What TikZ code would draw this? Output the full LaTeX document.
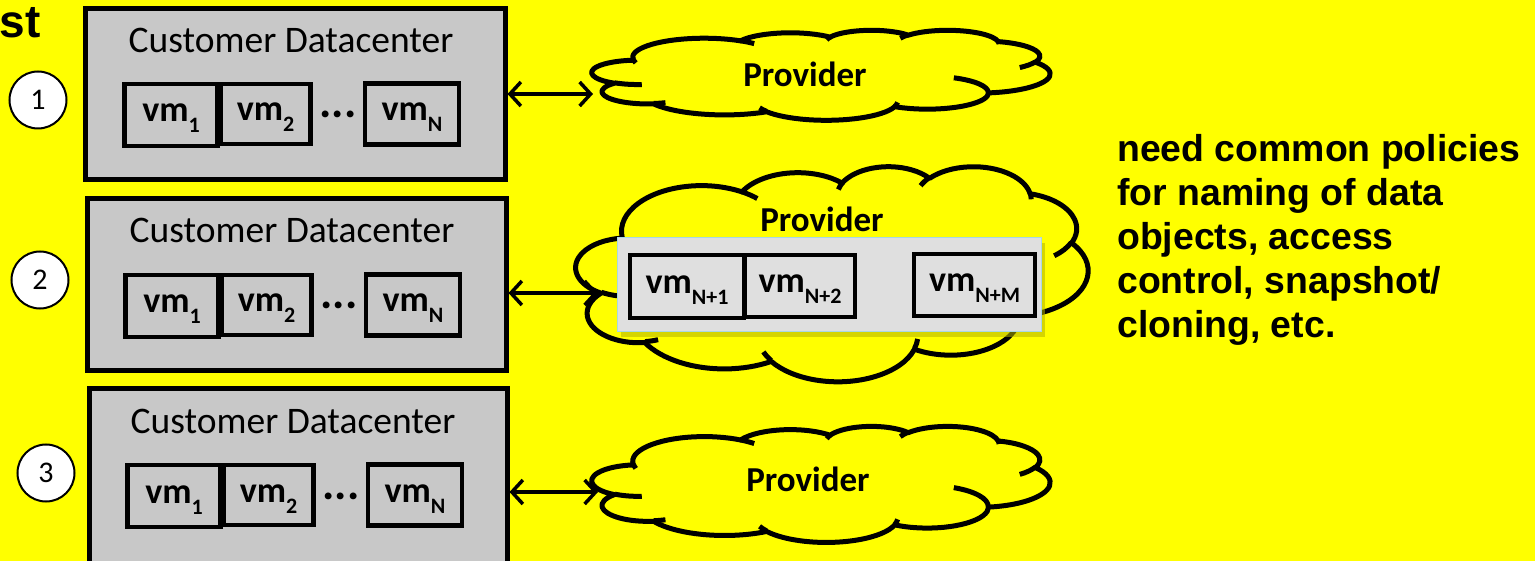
\documentclass[tikz,border=0pt]{standalone}
\usepackage{fontspec}
\setmainfont{Carlito}
\newfontfamily\arialfont{Liberation Sans}
\usetikzlibrary{arrows.meta}
\definecolor{bgyellow}{HTML}{FFFF00}
\definecolor{dcgray}{HTML}{C8C8C8}
\definecolor{innergray}{HTML}{DFDFDF}
\definecolor{innerborder}{HTML}{A8D8E4}
\definecolor{shadowcol}{HTML}{B4B400}
\newcommand\vmsub[1]{vm\raisebox{-11pt}{\fontsize{22}{22}\selectfont #1}}
% arc of the PowerPoint cloud: wR hR startangle sweep (visual angles, degrees)
\newcommand\pparc[4]{%
  \pgfextra{%
    \pgfmathparse{atan2((#1)*sin(#3),(#2)*cos(#3))}\xdef\pcs{\pgfmathresult}%
    \pgfmathparse{atan2((#1)*sin((#3)+(#4)),(#2)*cos((#3)+(#4)))}\xdef\pce{\pgfmathresult}%
    \pgfmathparse{\pce-\pcs}\xdef\pcd{\pgfmathresult}%
    \pgfmathparse{(\pcd-(#4)>180) ? (\pcd-360) : ((\pcd-(#4)<-180) ? (\pcd+360) : \pcd)}\xdef\pcd{\pgfmathresult}%
  }
  arc[start angle=\pcs, delta angle=\pcd, x radius=#1, y radius=#2]
}
\newcommand\cloudoutline{%
  (390,1437)
  \pparc{675.3}{919}{-190.487}{123.781}
  \pparc{533.3}{726.7}{-144.102}{89.945}
  \pparc{436.5}{594.5}{-145.808}{99.723}
  \pparc{485.7}{659.5}{-130.986}{117.242}
  \pparc{533.3}{727.3}{-78.709}{109.027}
  \pparc{677.5}{922}{-46.267}{130.269}
  \pparc{578.5}{786.7}{0.625}{114.033}
  \pparc{675.2}{921.5}{22.452}{115.173}
  \pparc{772}{1054.3}{66.243}{75.711}
  \pparc{436}{591.8}{-274.942}{146.736}
  \pparc{434.5}{594.5}{-246.829}{152.519}
  -- cycle}
\newcommand\cloudinner{%
  (469.3,2617.7) \pparc{434.5}{594.5}{86.742}{26.430}
  (692.8,3489.9) \pparc{436}{591.8}{73.610}{11.447}
  (1647.8,3909) \pparc{675.2}{921.5}{137.624}{14.081}
  (2882.7,3475.1) \pparc{675.2}{921.5}{6.453}{15.998}
  (3412.9,2295.4) \pparc{578.5}{786.7}{-70.292}{70.917}
  (4179.8,1535.4) \pparc{533.3}{727.3}{30.318}{27.752}
  (3832.4,542.6) \pparc{485.7}{659.5}{-13.744}{14.859}
  (2907.8,395.2) \pparc{485.7}{659.5}{-149.181}{18.195}
  (2214.1,472) \pparc{436.5}{594.5}{-163.494}{17.686}
  (1400,519.2) \pparc{675.3}{919}{-66.707}{12.319}
  (412.7,1578.9) \pparc{675.3}{919}{157.654}{11.858}}
\begin{document}
\begin{tikzpicture}[x=1pt,y=-1pt,
  dcbox/.style={draw=black, line width=5pt, fill=dcgray, inner sep=0pt},
  vmbox/.style={draw=black, line width=4.5pt, fill=dcgray, inner sep=0pt},
  vmlabel/.style={font=\fontsize{36}{36}\selectfont\bfseries, inner sep=0pt, anchor=base, yshift=-7pt},
  dctitle/.style={font=\fontsize{37.5}{37.5}\selectfont, inner sep=0pt, anchor=base},
  dotsl/.style={font=\fontsize{46}{46}\selectfont\bfseries, inner sep=0pt, anchor=base},
  numcirc/.style={circle, draw=black, line width=2pt, fill=white, minimum size=57pt, inner sep=0pt, font=\fontsize{30}{30}\selectfont},
  cloudline/.style={draw=black, line width=5pt, line join=round},
  provlabel/.style={font=\fontsize{35}{35}\selectfont\bfseries, inner sep=0pt, anchor=base},
  conn/.style={<->, line width=3.5pt, >={Straight Barb[length=11pt,width=24pt,line width=3.5pt]}},
  note/.style={font=\arialfont\bfseries\fontsize{37.4}{44}\selectfont, inner sep=0pt, anchor=base west},
]
\useasboundingbox (0,0) rectangle (1535,561);
\fill[bgyellow] (0,0) rectangle (1535,561);
\clip (0,0) rectangle (1535,561);

\node[font=\arialfont\bfseries\fontsize{46}{46}\selectfont, inner sep=0pt, anchor=base east] (stlab) at (41,38) {st};

% datacenters
\foreach \r/\bx/\by/\bw/\bh/\tx/\ty/\vy/\dx in {1/295/94.5/420/171/291/53/115/0, 2/296.5/285/419/172/292/243/306/1, 3/298/478/418/178/293/433/496/3}{
  \node[dcbox, minimum width=\bw pt, minimum height=\bh pt] (dc\r) at (\bx,\by) {};
  \node[dctitle] (dct\r) at (\tx,\ty) {Customer Datacenter};
  \node[vmbox, minimum width=93pt, minimum height=62pt] (vma\r) at (171+\dx,\vy) {};
  \node[vmbox, minimum width=90pt, minimum height=60pt] (vmb\r) at (265.5+\dx,\vy-1) {};
  \node[vmbox, minimum width=94pt, minimum height=61pt] (vmn\r) at (412+\dx,\vy-1) {};
  \node[vmlabel] (vmal\r) at (vma\r.center) {\vmsub{1}};
  \node[vmlabel] (vmbl\r) at (vmb\r.center) {\vmsub{2}};
  \node[vmlabel] (vmnl\r) at (vmn\r.center) {\vmsub{N}};
  \node[dotsl] (dots\r) at (338+\dx,\vy+3) {...};
}

% number circles
\node[numcirc] (c1) at (38,100) {1};
\node[numcirc] (c2) at (40,280) {2};
\node[numcirc] (c3) at (46,473) {3};

% clouds
\begin{scope}[shift={(592,30)}, x=0.106019pt, y=-0.020833pt]
  \path[cloudline, fill=bgyellow] \cloudoutline;
  \path[cloudline] \cloudinner;
  \coordinate (cloud1) at (2160,2160);
\end{scope}
\node[provlabel] (prov1) at (805,87) {Provider};

\begin{scope}[shift={(576,166)}, x=0.118519pt, y=-0.049769pt]
  \path[cloudline, fill=bgyellow] \cloudoutline;
  \path[cloudline] \cloudinner;
  \coordinate (cloud2) at (2160,2160);
\end{scope}
\node[provlabel] (prov2) at (822,232) {Provider};
\node[fill=shadowcol, opacity=0.55, minimum width=424pt, minimum height=94pt, inner sep=0pt] (innershadow) at (833,290) {};
\node[fill=innergray, draw=innerborder, line width=1pt, minimum width=424pt, minimum height=94pt, inner sep=0pt] (inner) at (829,285) {};
\node[vmbox, fill=innergray, minimum width=114pt, minimum height=63pt] (vmp1) at (687,286.5) {};
\node[vmbox, fill=innergray, minimum width=110pt, minimum height=62pt] (vmp2) at (800,286) {};
\node[vmbox, fill=innergray, minimum width=121pt, minimum height=62pt] (vmpm) at (974.5,285) {};
\node[vmlabel] (vmpl1) at (vmp1.center) {\vmsub{N+1}};
\node[vmlabel] (vmpl2) at (vmp2.center) {\vmsub{N+2}};
\node[vmlabel] (vmplm) at (vmpm.center) {\vmsub{N+M}};

\begin{scope}[shift={(592,426)}, x=0.106019pt, y=-0.026852pt]
  \path[cloudline, fill=bgyellow] \cloudoutline;
  \path[cloudline] \cloudinner;
  \coordinate (cloud3) at (2160,2160);
\end{scope}
\node[provlabel] (prov3) at (808,491) {Provider};

% connectors
\coordinate (a1) at (593,94);
\coordinate (a2) at (598,293);
\coordinate (a3) at (598,492);
\draw[conn] (dc1.east |- a1) -- (a1);
\draw[conn] (dc2.east |- a2) -- (a2);
\draw[conn] (dc3.east |- a3) -- (a3);

% note
\node[note] (n1) at (1117,162) {need common policies};
\node[note] (n2) at (1117,206) {for naming of data};
\node[note] (n3) at (1117,250) {objects, access};
\node[note] (n4) at (1117,294) {control, snapshot/};
\node[note] (n5) at (1117,338) {cloning, etc.};
\end{tikzpicture}
\end{document}
